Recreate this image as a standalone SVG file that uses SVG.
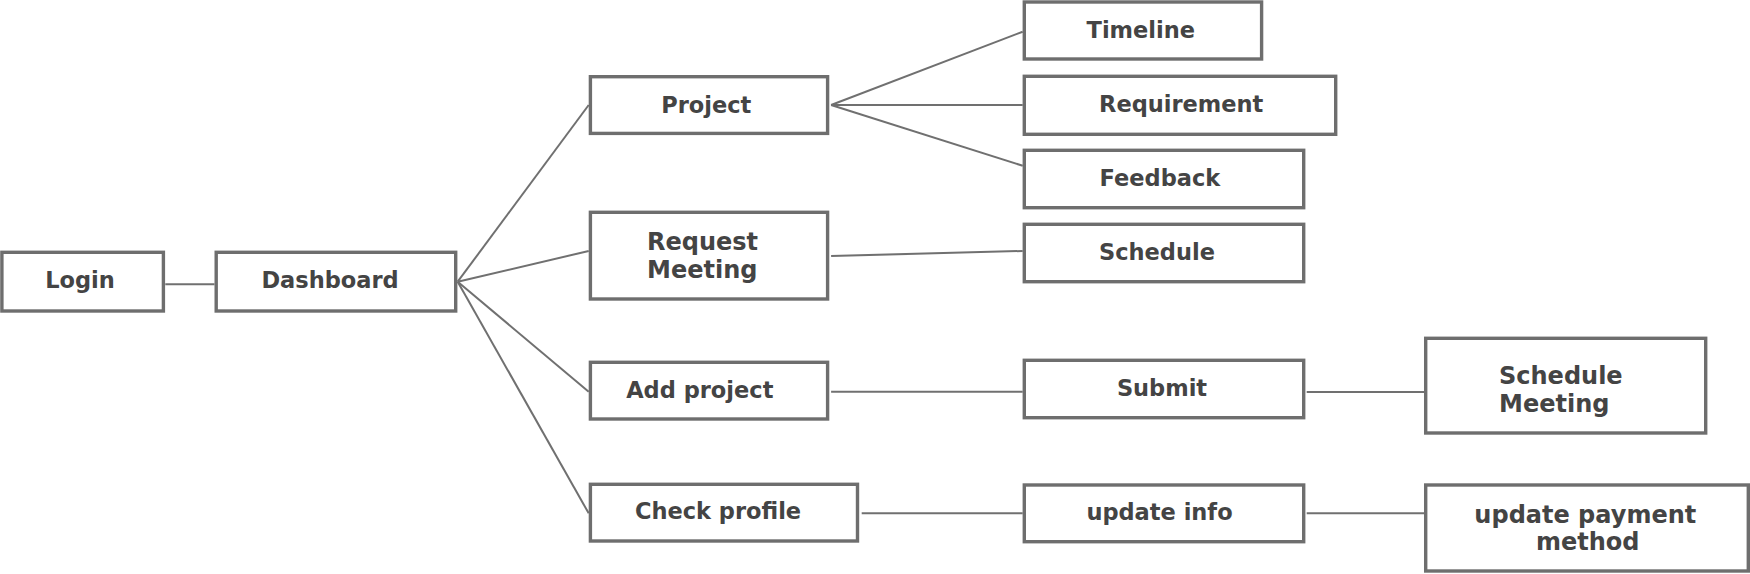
<svg xmlns="http://www.w3.org/2000/svg" width="1750" height="574" viewBox="0 0 1750 574">
<style>
.box{fill:#ffffff;stroke:#6e6e6e;stroke-width:3.4}
.lbl{font-family:"DejaVu Sans","Liberation Sans",sans-serif;font-weight:700;font-size:22.5px;fill:#444444;text-anchor:middle}
.st{text-anchor:start}
.big{font-size:24px}
.conn line{stroke:#707070;stroke-width:2;fill:none}
</style>
<rect width="1750" height="574" fill="#ffffff"/>
<g id="connectors" class="conn">
<line x1="165.3" y1="284.3" x2="214.5" y2="284.3"/>
<line x1="457.7" y1="281.7" x2="588.7" y2="105"/>
<line x1="457.7" y1="281.7" x2="588.7" y2="251"/>
<line x1="457.7" y1="281.7" x2="588.7" y2="391.7"/>
<line x1="457.7" y1="281.7" x2="588.7" y2="513.3"/>
<line x1="831.1" y1="105" x2="1022.7" y2="31.7"/>
<line x1="831.1" y1="105" x2="1022.7" y2="105"/>
<line x1="831.1" y1="105" x2="1022.7" y2="165.7"/>
<line x1="831.1" y1="256" x2="1022.7" y2="251"/>
<line x1="831.1" y1="391.7" x2="1022.7" y2="391.7"/>
<line x1="861.7" y1="513.3" x2="1022.7" y2="513.3"/>
<line x1="1306.7" y1="392" x2="1424" y2="392"/>
<line x1="1306.7" y1="513.3" x2="1424" y2="513.3"/>
</g>
<g id="login"><rect class="box" x="1.9" y="252.3" width="161.5" height="58.7"/><text class="lbl" x="80" y="288.3">Login</text></g>
<g id="dashboard"><rect class="box" x="216.2" y="252.3" width="239.5" height="58.7"/><text class="lbl" x="330" y="288.3">Dashboard</text></g>
<g id="project"><rect class="box" x="590.4" y="76.7" width="237.2" height="56.7"/><text class="lbl" x="706.3" y="112.7">Project</text></g>
<g id="request-meeting"><rect class="box" x="590.4" y="212.3" width="237.2" height="86.7"/><text class="lbl big st" x="647" y="250">Request</text><text class="lbl big st" x="647" y="278.3">Meeting</text></g>
<g id="add-project"><rect class="box" x="590.4" y="362.3" width="237.2" height="56.7"/><text class="lbl" x="699.8" y="397.7">Add project</text></g>
<g id="check-profile"><rect class="box" x="590.4" y="484.3" width="267.1" height="56.7"/><text class="lbl" x="718" y="519.3">Check profile</text></g>
<g id="timeline"><rect class="box" x="1024.3" y="2" width="237.3" height="57"/><text class="lbl" x="1140.8" y="37.7">Timeline</text></g>
<g id="requirement"><rect class="box" x="1024.3" y="76.3" width="311.4" height="58"/><text class="lbl" x="1181.2" y="111.7">Requirement</text></g>
<g id="feedback"><rect class="box" x="1024.3" y="150.3" width="279.4" height="57.4"/><text class="lbl" x="1159.9" y="185.7">Feedback</text></g>
<g id="schedule"><rect class="box" x="1024.3" y="224.3" width="279.4" height="57.4"/><text class="lbl" x="1157" y="260">Schedule</text></g>
<g id="submit"><rect class="box" x="1024.3" y="360.3" width="279.4" height="57.4"/><text class="lbl" x="1162" y="395.7">Submit</text></g>
<g id="update-info"><rect class="box" x="1024.3" y="485" width="279.4" height="56.7"/><text class="lbl" x="1159.5" y="520">update info</text></g>
<g id="schedule-meeting"><rect class="box" x="1425.7" y="338.3" width="280" height="94.7"/><text class="lbl big st" x="1499" y="384">Schedule</text><text class="lbl big st" x="1499" y="412">Meeting</text></g>
<g id="update-payment-method"><rect class="box" x="1425.7" y="485" width="322.6" height="86"/><text class="lbl big" x="1585.3" y="523.3">update payment</text><text class="lbl big" x="1587.7" y="550">method</text></g>
</svg>
